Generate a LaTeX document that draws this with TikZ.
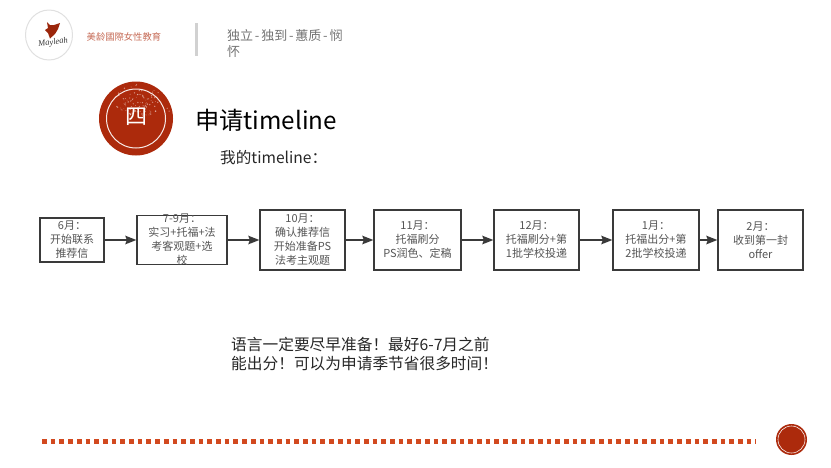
\documentclass[tikz,border=0pt]{standalone}
\usepackage{fontspec}
\setmainfont{Noto Sans CJK SC}
\newfontfamily\scriptname{Liberation Serif}
\usetikzlibrary{arrows.meta,shapes.geometric}
\definecolor{stampred}{HTML}{AC2A0C}
\definecolor{dotred}{HTML}{D2491F}
\definecolor{boxline}{HTML}{3A3A3A}
\definecolor{boxtext}{HTML}{555555}
\newcommand{\mottodash}{\kern1.8pt-\kern1.8pt}
\begin{document}
\begin{tikzpicture}[x=1pt,y=-1pt,
         arrow/.style={-{Stealth[length=11pt,width=8.5pt,inset=1.5pt]},boxline,line width=1.6pt},
         month box/.style={draw=boxline,line width=1.3pt,fill=white,rectangle,inner sep=0pt},
         month text/.style={font=\fontsize{11}{14}\selectfont,text=boxtext,align=center,inner sep=0pt},
         stamp/.style={circle,fill=stampred,inner sep=0pt},
         stamp ring/.style={circle,draw=white!90!stampred,inner sep=0pt}
      ]
   \useasboundingbox (0,0) rectangle (831,467);

   \node[ellipse,draw=black!12,line width=1pt,fill=white,minimum width=47pt,minimum height=50pt,inner sep=0pt] (logo) at (49,35) {};
   \fill[stampred!90!black] (47,22) -- (50,25) -- (54,25) -- (60,23) -- (58,29) -- (55,34) -- (50,38.5) -- (48,33) -- (45,30) -- (48,28) -- cycle;
   \node[font=\itshape\fontsize{8.5}{8.5}\selectfont,text=black!80,inner sep=0pt,rotate=8] (logoL) at (53,42.5) {\scriptname Mayleah};
   \node[font=\fontsize{9.3}{10}\selectfont,text=stampred!70!white,anchor=west,inner sep=0pt] (brand) at (86.5,36.5) {美龄國際女性教育};
   \fill[black!18] (194.5,23) rectangle (198,56);
   \node[font=\fontsize{13}{16}\selectfont,text=black!55,align=left,anchor=north west,inner sep=0pt] (motto) at (227,29) {独立\mottodash 独到\mottodash 蕙质\mottodash 悯\\怀};

   \node[stamp,minimum size=74pt] (badge) at (136,118.5) {};
   \begin{scope}
      \pgfmathsetseed{41}
      \foreach \i in {1,...,110}{
         \pgfmathsetmacro{\ang}{-150+rnd*140}
         \pgfmathsetmacro{\rad}{6+rnd*29}
         \fill[white,opacity=0.45] (badge) ++(\ang:\rad) circle (0.35+0.5*rnd);
      }
   \end{scope}
   \node[stamp ring,line width=1pt,minimum size=59pt] (badgeR) at (badge) {};
   \node[font=\fontsize{22}{22}\selectfont,text=white,inner sep=0pt] (badgeL) at (136.5,117) {四};

   \node[font=\fontsize{24.2}{28}\selectfont,text=black,anchor=west,inner sep=0pt] (title) at (195,120) {申请timeline};
   \node[font=\fontsize{15.6}{18}\selectfont,text=black!85,anchor=west,inner sep=0pt] (subtitle) at (220,158) {我的timeline：};

   \node[month box,minimum width=64pt,minimum height=44pt] (m1) at (72,240) {};
   \node[month box,minimum width=90pt,minimum height=49pt] (m2) at (182,240) {};
   \node[month box,minimum width=85pt,minimum height=60pt] (m3) at (302.5,240) {};
   \node[month box,minimum width=87pt,minimum height=60pt] (m4) at (417.5,240) {};
   \node[month box,minimum width=85pt,minimum height=60pt] (m5) at (536.5,240) {};
   \node[month box,minimum width=86pt,minimum height=60pt] (m6) at (656,240) {};
   \node[month box,minimum width=85pt,minimum height=60pt] (m7) at (760.5,240) {};

   \node[month text] (m1L) at (m1) {6月：\\开始联系\\推荐信};
   \node[month text] (m2L) at (m2) {7-9月：\\实习+托福+法\\考客观题+选\\校};
   \node[month text] (m3L) at (m3) {10月：\\确认推荐信\\开始准备PS\\法考主观题};
   \node[month text] (m4L) at (m4) {11月：\\托福刷分\\PS润色、定稿};
   \node[month text] (m5L) at (m5) {12月：\\托福刷分+第\\1批学校投递};
   \node[month text] (m6L) at (m6) {1月：\\托福出分+第\\2批学校投递};
   \node[month text] (m7L) at (m7) {2月：\\收到第一封\\offer};

   \begin{scope}[arrow]
      \draw (m1) -- (m2);
      \draw (m2) -- (m3);
      \draw (m3) -- (m4);
      \draw (m4) -- (m5);
      \draw (m5) -- (m6);
      \draw (m6) -- (m7);
   \end{scope}

   \node[font=\fontsize{15.7}{19}\selectfont,text=black!85,align=left,anchor=north west,inner sep=0pt] (note) at (231,337) {语言一定要尽早准备！最好6-7月之前\\能出分！可以为申请季节省很多时间！};

   \coordinate (dotsA) at (42,441.5);
   \coordinate (dotsB) at (756,441.5);
   \draw[dotred,line width=4.7pt,dash pattern=on 4.7pt off 4pt] (dotsA) -- (dotsB);
   \node[stamp,minimum size=31pt] (pageMark) at (791.5,439.5) {};
   \node[stamp ring,line width=0.6pt,minimum size=27pt] (pageMarkR) at (pageMark) {};
\end{tikzpicture}
\end{document}
